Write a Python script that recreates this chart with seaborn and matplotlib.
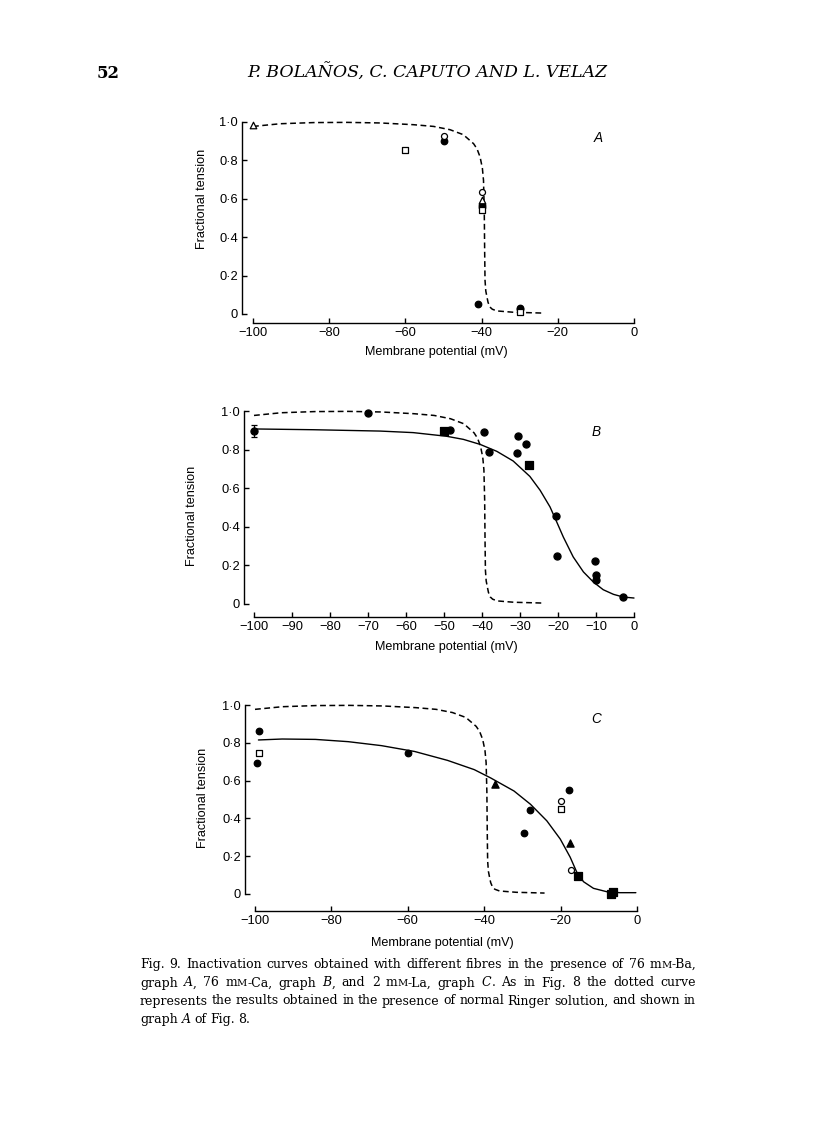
import re
import matplotlib
matplotlib.use("Agg")
import matplotlib.pyplot as plt
import seaborn as sns
import pandas as pd

# ---------------- data ----------------
# Normal Ringer curve (dotted curve, same in all panels)
ringer_v = [-100, -92.8, -84, -75.3, -66.6, -57.9, -52.6, -48.3, -44.8, -42.1, -41.2,
            -40.4, -39.8, -39.5, -39.3, -39.2, -39.1, -38.9, -38.6, -38.3, -37.8,
            -37.2, -36.0, -31.6, -24.2]
ringer_t = [0.977, 0.991, 0.997, 0.998, 0.995, 0.986, 0.977, 0.960, 0.934, 0.887, 0.860,
            0.818, 0.76, 0.696, 0.54, 0.33, 0.175, 0.12, 0.089, 0.06, 0.036,
            0.025, 0.016, 0.009, 0.005]

# Panel A: 76 mM-Ba
a_v = [-100, -60, -50, -50, -40, -40, -40, -40, -39.8, -41, -30, -30, -30]
a_t = [0.983, 0.852, 0.925, 0.900, 0.635, 0.592, 0.566, 0.556, 0.54, 0.054, 0.032, 0.025, 0.010]
a_kind = ["ot", "os", "oc", "fc", "oc", "ot", "fc", "fc", "os", "fc", "fc", "fc", "os"]

# Panel B: 76 mM-Ca
b_v = [-100, -70, -50, -48.4, -39.4, -38.2, -30.4, -30.9, -28.4, -27.6, -20.5, -20.2,
       -10.3, -10.0, -10.0, -3.0]
b_t = [0.896, 0.99, 0.895, 0.903, 0.891, 0.788, 0.870, 0.782, 0.827, 0.722, 0.454, 0.249,
       0.223, 0.149, 0.126, 0.036]
b_kind = ["fc", "fc", "fs", "fc", "fc", "fc", "fc", "fc", "fc", "fs", "fc", "fc",
          "fc", "fc", "fc", "fc"]
b_err_v = [-100]
b_err_t = [0.896]
b_err = [0.03]
b_fit_v = [-100, -84.4, -66.8, -58.1, -49.3, -44.9, -40.5, -36.1, -31.8, -27.4, -24.7,
           -22.1, -20.4, -18.6, -16.0, -13.3, -10.7, -8.1, -5.4, -2.8, 0]
b_fit_t = [0.907, 0.903, 0.896, 0.888, 0.869, 0.853, 0.827, 0.791, 0.741, 0.661, 0.589,
           0.503, 0.428, 0.347, 0.244, 0.166, 0.114, 0.074, 0.050, 0.036, 0.031]

# Panel C: 2 mM-La
c_v = [-99, -99, -99.5, -60, -37.2, -29.6, -27.9, -19.8, -19.8, -17.9, -17.5, -17.3,
       -15.5, -6.4, -6.8]
c_t = [0.864, 0.745, 0.693, 0.745, 0.583, 0.323, 0.442, 0.492, 0.449, 0.55, 0.269, 0.126,
       0.094, 0.012, 0.002]
c_kind = ["fc", "os", "fc", "fc", "ft", "fc", "fc", "oc", "os", "fc", "ft", "oc",
          "fs", "fs", "fs"]
c_fit_v = [-99.1, -92.9, -84.2, -75.6, -66.9, -58.2, -49.6, -42.6, -38.3, -32.2, -27.9,
           -23.6, -20.1, -17.5, -15.8, -14.0, -11.4, -7.9, -4.5, -0.3]
c_fit_t = [0.815, 0.820, 0.818, 0.806, 0.785, 0.754, 0.707, 0.658, 0.614, 0.545, 0.475,
           0.387, 0.291, 0.195, 0.117, 0.065, 0.030, 0.012, 0.007, 0.007]

x_ticks_ac = [-100, -80, -60, -40, -20, 0]
x_ticks_b = [-100, -90, -80, -70, -60, -50, -40, -30, -20, -10, 0]
y_ticks = [0, 0.2, 0.4, 0.6, 0.8, 1.0]
y_tick_labels = ["0", "0·2", "0·4", "0·6", "0·8", "1·0"]
panel_letters = ["A", "B", "C"]
x_label = "Membrane potential (mV)"
y_label = "Fractional tension"

page_number = "52"
running_head = "P. BOLAÑOS, C. CAPUTO AND L. VELAZ"
caption_lines = [
    "Fig. 9.  Inactivation curves obtained with different fibres in the presence of 76 m{s:M}-Ba,",
    "graph {i:A}, 76 m{s:M}-Ca, graph {i:B}, and 2 m{s:M}-La, graph {i:C}. As in Fig. 8 the dotted curve",
    "represents the results obtained in the presence of normal Ringer solution, and shown in",
    "graph {i:A} of Fig. 8.",
]

# ---------------- style ----------------
sns.set_theme(style="ticks")
plt.rcParams["font.family"] = ["Liberation Sans", "DejaVu Sans"]
plt.rcParams.update({
    "axes.edgecolor": "black", "xtick.color": "black", "ytick.color": "black",
    "text.color": "black", "axes.labelcolor": "black", "axes.linewidth": 1.0,
    "axes.unicode_minus": True,
})

W, H = 816, 1140
fig = plt.figure(figsize=(W / 100, H / 100), dpi=100)
fig.patch.set_facecolor("white")

MARKERS = {
    "fc": ("o", "black", 26), "oc": ("o", "white", 22),
    "fs": ("s", "black", 30), "os": ("s", "white", 24),
    "ft": ("^", "black", 32), "ot": ("^", "white", 26),
}


def add_ax(left, right, top, bottom):
    return fig.add_axes([left / W, 1 - bottom / H, (right - left) / W, (bottom - top) / H])


def draw_points(ax, v, t, kind, scale=1.0):
    df = pd.DataFrame({"V": v, "T": t, "kind": kind})
    for k, sub in df.groupby("kind"):
        m, fc, s = MARKERS[k]
        sns.scatterplot(data=sub, x="V", y="T", marker=m, color=fc, edgecolor="black",
                        linewidth=0.9, s=s * scale, ax=ax, clip_on=False, zorder=3,
                        legend=False)


def draw_curve(ax, v, t, dashed):
    sns.lineplot(x=v, y=t, sort=False, estimator=None, color="black",
                 linewidth=1.1 if dashed else 1.0, ax=ax)
    ln = ax.lines[-1]
    ln.set_clip_on(False)
    if dashed:
        ln.set_dashes((3.8, 2.3))


panels = [
    dict(box=(253, 634, 122, 314), off=(11, 9), xt=x_ticks_ac,
         pts=(a_v, a_t, a_kind), fit=None, err=False, scale=0.85,
         letter=(0.905, 0.915), ylab=(-0.118, 0.60), xlab=(0.48, -0.165)),
    dict(box=(254, 634, 411, 604), off=(10, 13), xt=x_ticks_b,
         pts=(b_v, b_t, b_kind), fit=(b_fit_v, b_fit_t), err=True, scale=1.0,
         letter=(0.90, 0.89), ylab=(-0.148, 0.456), xlab=(0.505, -0.19)),
    dict(box=(255, 637, 705, 894), off=(10, 17), xt=x_ticks_ac,
         pts=(c_v, c_t, c_kind), fit=(c_fit_v, c_fit_t), err=False, scale=0.85,
         letter=(0.893, 0.925), ylab=(-0.121, 0.51), xlab=(0.49, -0.228)),
]

for p, letter in zip(panels, panel_letters):
    ax = add_ax(*p["box"])
    ax.set_facecolor("white")
    draw_curve(ax, ringer_v, ringer_t, dashed=True)
    if p["fit"] is not None:
        draw_curve(ax, p["fit"][0], p["fit"][1], dashed=False)
    if p["err"]:
        ax.errorbar(b_err_v, b_err_t, yerr=b_err, fmt="none", ecolor="black",
                    elinewidth=0.9, capsize=2.2, capthick=0.9, zorder=3, clip_on=False)
    draw_points(ax, *p["pts"], scale=p["scale"])

    ax.set_xlim(-100, 0)
    ax.set_ylim(0, 1.0)
    ax.set_xticks(p["xt"])
    ax.set_yticks(y_ticks, labels=y_tick_labels)
    for s in ("top", "right"):
        ax.spines[s].set_visible(False)
    ax.spines["left"].set_position(("outward", p["off"][0] * 0.72))
    ax.spines["bottom"].set_position(("outward", p["off"][1] * 0.72))
    ax.tick_params(axis="both", direction="in", length=3.8, width=1.0,
                   labelsize=9.3, pad=2.8)
    ax.tick_params(axis="x", pad=3.2)
    ax.set_xlabel(x_label, fontsize=9.1)
    ax.set_ylabel(y_label, fontsize=9.1)
    ax.yaxis.set_label_coords(*p["ylab"])
    ax.xaxis.set_label_coords(*p["xlab"])
    ax.text(p["letter"][0], p["letter"][1], letter, transform=ax.transAxes,
            fontsize=9.8, fontstyle="italic", ha="center", va="center")

# ---------------- page text ----------------
renderer = fig.canvas.get_renderer()
SERIF = ["DejaVu Serif", "Liberation Serif"]


def fit_text(x, y, s, target_w, family, **kw):
    t = fig.text(x / W, 1 - y / H, s, family=family, va="baseline", ha="left", **kw)
    w = t.get_window_extent(renderer).width
    t.set_fontsize(t.get_fontsize() * target_w / w)
    return t


fit_text(97, 78, page_number, 23, ["DejaVu Serif"], fontsize=13, fontweight="bold")
fit_text(247, 78, running_head, 360, ["DejaVu Serif"], fontsize=13, fontstyle="italic")


def parse_words(line):
    words = []
    for w in line.split():
        segs = []
        pos = 0
        for m in re.finditer(r"\{([is]):([^}]*)\}", w):
            if m.start() > pos:
                segs.append(("n", w[pos:m.start()]))
            segs.append((m.group(1), m.group(2)))
            pos = m.end()
        if pos < len(w):
            segs.append(("n", w[pos:]))
        words.append(segs)
    return words


def seg_text(x, y, style, s, fs):
    kw = dict(family=SERIF, va="baseline", ha="left", fontsize=fs)
    if style == "i":
        kw["fontstyle"] = "italic"
    if style == "s":
        kw["fontsize"] = fs * 0.8
    t = fig.text(x / W, 1 - y / H, s, **kw)
    return t, t.get_window_extent(renderer).width


def word_width(segs, fs):
    total = 0
    for st, s in segs:
        t, w = seg_text(0, 0, st, s, fs)
        t.remove()
        total += w
    return total


cap_x0, cap_x1 = 140, 696
cap_base = [968, 986.5, 1004.5, 1023]
cap_fs = 9.0
# shrink the font if any justified line would not fit with normal spacing
for _ in range(10):
    ok = True
    for line in caption_lines[:-1]:
        words = parse_words(line)
        nat = sum(word_width(wd, cap_fs) for wd in words) + \
            (len(words) - 1) * cap_fs * 100 / 72 * 0.22
        if nat > cap_x1 - cap_x0:
            ok = False
    if ok:
        break
    cap_fs *= 0.97

for i, (line, yb) in enumerate(zip(caption_lines, cap_base)):
    words = parse_words(line)
    widths = [word_width(wd, cap_fs) for wd in words]
    if i < len(caption_lines) - 1:
        gap = (cap_x1 - cap_x0 - sum(widths)) / (len(words) - 1)
    else:
        gap = cap_fs * 100 / 72 * 0.3
    x = cap_x0
    for wd, ww in zip(words, widths):
        xx = x
        for st, s in wd:
            _, w = seg_text(xx, yb, st, s, cap_fs)
            xx += w
        x += ww + gap

fig.savefig("out.png", dpi=100, facecolor="white")
